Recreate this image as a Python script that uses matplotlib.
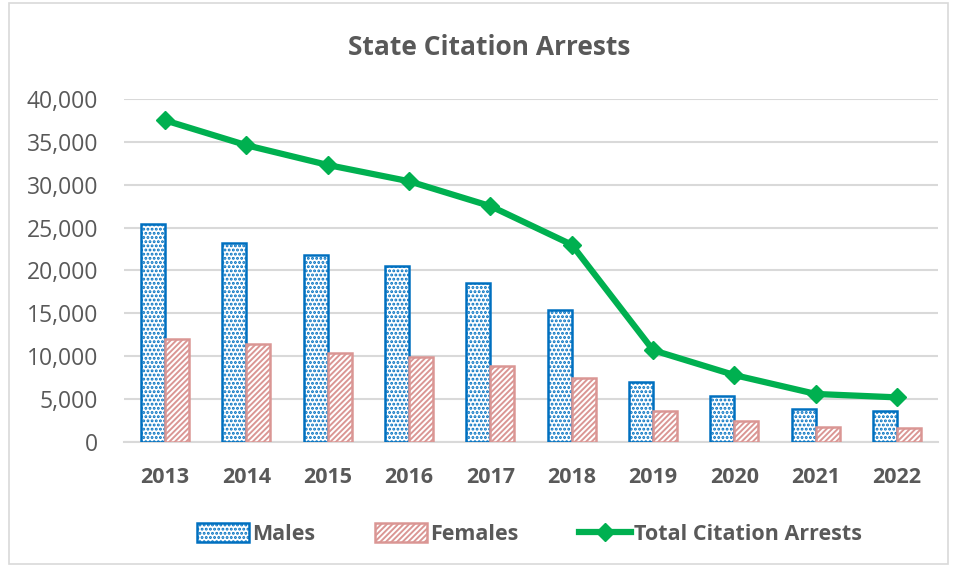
import matplotlib
matplotlib.use('Agg')
import matplotlib.pyplot as plt
import matplotlib.ticker as mticker
from matplotlib.patches import Rectangle
import numpy as np

plt.rcParams['font.family'] = ['Open Sans', 'DejaVu Sans']
plt.rcParams['hatch.linewidth'] = 1.4

years = ['2013', '2014', '2015', '2016', '2017', '2018', '2019', '2020', '2021', '2022']
males = [25400, 23200, 21800, 20500, 18500, 15400, 7000, 5400, 3850, 3600]
females = [12000, 11400, 10400, 9900, 8900, 7500, 3600, 2400, 1750, 1600]
total = [37500, 34600, 32300, 30400, 27500, 23000, 10700, 7800, 5600, 5200]

blue = '#0070C0'
pink = '#DA9694'
green = '#00B050'
txt = '#595959'

fig = plt.figure(figsize=(9.54, 5.67), dpi=100)
ax = fig.add_axes([0.1305, 0.2205, 0.8525, 0.605])

x = np.arange(len(years))
w = 0.295
b1 = ax.bar(x - w / 2, males, w, facecolor='white', edgecolor=blue, hatch='....',
            linewidth=1.8, label='Males', zorder=3)
b2 = ax.bar(x + w / 2, females, w, facecolor='white', edgecolor=pink, hatch='//////',
            linewidth=1.8, label='Females', zorder=3)
ln, = ax.plot(x, total, color=green, linewidth=4.5, marker='D', markersize=9,
              label='Total Citation Arrests', zorder=4)

ax.set_xlim(-0.5, len(years) - 0.5)
ax.set_ylim(0, 40000)
ax.yaxis.set_major_locator(mticker.MultipleLocator(5000))
ax.yaxis.set_major_formatter(mticker.FuncFormatter(lambda v, p: f'{int(v):,}'))
ax.set_xticks(x)
ax.set_xticklabels(years, fontweight='bold')
ax.tick_params(axis='both', length=0, colors=txt)
ax.tick_params(axis='x', pad=18, labelsize=15.5)
ax.tick_params(axis='y', pad=19, labelsize=16.5)
ax.grid(axis='y', color='#D9D9D9', linewidth=1.5, zorder=0)
for s in ['top', 'right', 'left']:
    ax.spines[s].set_visible(False)
ax.spines['bottom'].set_color('#D9D9D9')
ax.spines['bottom'].set_linewidth(1.5)

fig.text(0.513, 0.917, 'State Citation Arrests', ha='center', va='center',
         fontsize=19, fontweight='bold', color=txt)

leg = fig.legend([b1, b2, ln], ['Males', 'Females', 'Total Citation Arrests'],
                 loc='center', bbox_to_anchor=(0.555, 0.058), ncol=3, frameon=False,
                 prop={'size': 15.5, 'weight': 'bold'}, labelcolor=txt,
                 handlelength=2.4, handleheight=1.0, handletextpad=0.15,
                 columnspacing=2.8)

fig.patches.append(Rectangle((0.009, 0.005), 0.985, 0.99, transform=fig.transFigure,
                             fill=False, edgecolor='#D9D9D9', linewidth=1.2))

fig.savefig('out.png', dpi=100)
